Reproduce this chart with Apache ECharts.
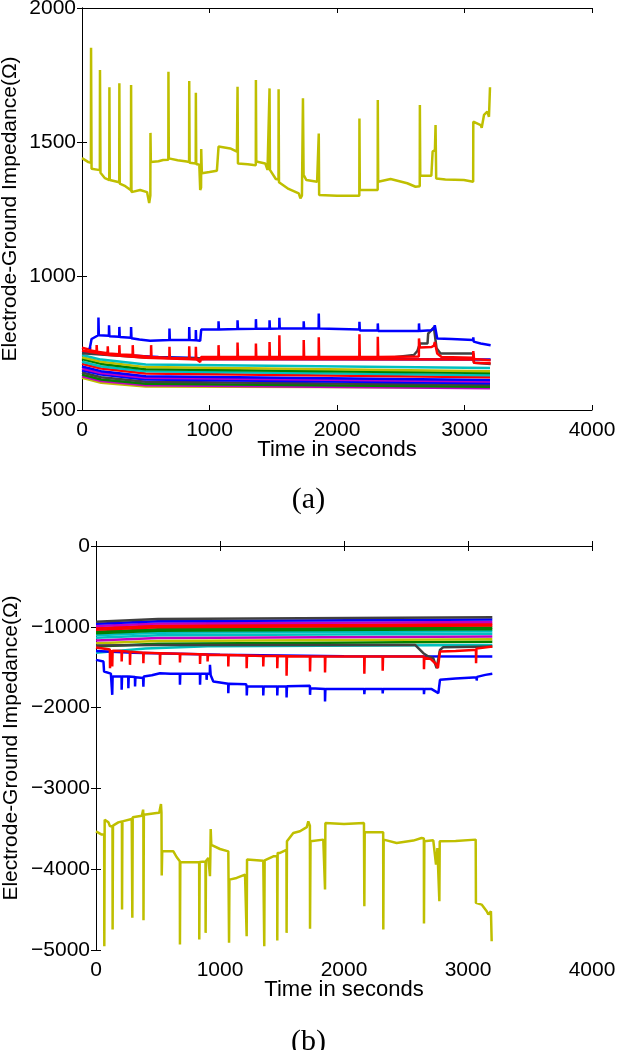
<!DOCTYPE html>
<html>
<head>
<meta charset="utf-8">
<script src="https://cdn.jsdelivr.net/npm/echarts@6/dist/echarts.min.js"></script>
<style>
html,body{margin:0;padding:0;background:#fff;}
#chart{width:617px;height:1050px;}
</style>
</head>
<body>
<div id="chart"></div>
<script>
// ---------- tick values ----------
const timeTicks = [0, 1000, 2000, 3000, 4000];
const ticksA = [500, 1000, 1500, 2000];
const ticksB = [-5000, -4000, -3000, -2000, -1000, 0];

// ---------- panel (a): [time s, impedance Ω] ----------
const aYellow = [[0,1440],[50,1425],[70,1422],[71,1852],[75,1400],[140,1395],[141,1769],[145,1385],[180,1365],[214,1358],[215,1704],[218,1358],[292,1350],[293,1719],[296,1345],[340,1335],[384,1320],[385,1713],[388,1313],[456,1321],[510,1313],[527,1272],[536,1300],[537,1534],[540,1425],[547,1422],[600,1428],[636,1433],[677,1434],[678,1762],[681,1439],[750,1432],[822,1427],[840,1425],[841,1728],[844,1423],[892,1420],[893,1684],[896,1418],[920,1415],[927,1321],[934,1330],[935,1474],[940,1383],[1000,1388],[1058,1393],[1071,1483],[1163,1476],[1215,1464],[1219,1462],[1220,1706],[1223,1420],[1300,1417],[1346,1414],[1363,1413],[1364,1731],[1367,1427],[1437,1420],[1450,1420],[1455,1396],[1470,1396],[1471,1700],[1474,1396],[1520,1362],[1541,1360],[1542,1697],[1545,1350],[1555,1346],[1620,1325],[1700,1308],[1713,1290],[1725,1300],[1733,1663],[1738,1377],[1760,1358],[1844,1352],[1856,1352],[1857,1532],[1860,1302],[2000,1299],[2175,1299],[2176,1588],[2179,1321],[2319,1321],[2320,1657],[2323,1352],[2420,1362],[2551,1346],[2616,1333],[2649,1335],[2650,1638],[2653,1374],[2740,1374],[2750,1464],[2768,1470],[2773,1563],[2778,1364],[2850,1360],[2995,1358],[3068,1352],[3069,1576],[3127,1563],[3135,1553],[3153,1601],[3179,1613],[3192,1594],[3198,1600],[3200,1704]];
const aBlue = [[60,728],[75,765],[128,779],[129,845],[132,779],[211,777],[212,816],[215,775],[292,773],[293,810],[296,772],[384,770],[385,810],[388,768],[450,763],[534,758],[540,761],[685,761],[686,804],[689,761],[840,761],[841,810],[844,761],[892,760],[893,798],[896,760],[927,758],[935,800],[1070,800],[1071,831],[1074,800],[1219,802],[1220,835],[1223,802],[1363,803],[1364,839],[1367,803],[1470,803],[1471,835],[1474,803],[1547,804],[1548,844],[1551,804],[1738,804],[1739,831],[1742,804],[1856,804],[1857,860],[1860,804],[2175,800],[2176,829],[2179,797],[2319,797],[2320,823],[2323,795],[2642,795],[2643,823],[2646,795],[2740,798],[2760,805],[2767,816],[2786,767],[2900,765],[3068,761],[3069,771],[3072,755],[3127,748],[3205,742]];
const aRed = [[0,732],[62,725],[63,735],[66,722],[114,718],[115,742],[118,717],[201,712],[202,738],[205,711],[292,708],[293,742],[296,707],[397,705],[398,742],[401,704],[541,698],[542,742],[545,698],[685,694],[686,736],[689,694],[840,691],[841,738],[844,691],[892,690],[893,736],[896,690],[927,679],[935,698],[1070,698],[1071,742],[1074,698],[1219,698],[1220,752],[1223,698],[1363,698],[1364,748],[1367,698],[1470,698],[1471,754],[1474,698],[1547,698],[1548,779],[1551,698],[1738,698],[1739,761],[1742,698],[1856,698],[1857,771],[1860,698],[2175,698],[2176,783],[2179,698],[2319,698],[2320,773],[2323,698],[2642,700],[2643,767],[2650,733],[2742,735],[2760,740],[2767,754],[2786,711],[2820,698],[3068,695],[3069,720],[3075,690],[3205,686]];
const aRed2 = [[0,722],[200,706],[500,695],[927,688],[1000,690],[3068,688],[3075,676],[3205,674]];
const aBlue2 = [[0,715],[300,705],[600,698],[900,694],[950,690],[3205,688]];
const aBlack = [[0,712],[500,696],[1000,692],[2366,692],[2603,705],[2630,720],[2650,748],[2710,748],[2715,785],[2760,808],[2781,730],[2812,711],[3068,711],[3075,676],[3205,672]];
const aBandCyan1 = [[0,705],[150,688],[500,670],[3200,657]];
const aBandYellow1 = [[0,697],[150,680],[500,660],[3200,645]];
const aBandGreen1 = [[0,690],[150,672],[500,652],[3200,638]];
const aBandCyan2 = [[0,680],[150,662],[500,645],[3200,630]];
const aBandRed = [[0,672],[150,655],[500,636],[3200,622]];
const aBandBlue1 = [[0,662],[150,645],[500,626],[3200,612]];
const aBandMagenta1 = [[0,655],[150,638],[500,620],[3200,606]];
const aBandBlue2 = [[0,648],[150,632],[500,614],[3200,600]];
const aBandBlack = [[0,640],[150,622],[500,605],[3200,593]];
const aBandGreen2 = [[0,632],[150,614],[500,598],[3200,587]];
const aBandMagenta2 = [[0,626],[150,608],[500,592],[3200,581]];
const aBandYellow2 = [[0,620],[150,602],[500,588],[3200,584]];

// ---------- panel (b): [time s, impedance Ω] ----------
const bYellow = [[0,-3531],[46,-3572],[66,-3572],[67,-4953],[70,-3387],[100,-3420],[113,-3470],[133,-3465],[134,-4747],[137,-3461],[180,-3420],[194,-3408],[209,-3408],[210,-4499],[213,-3408],[288,-3379],[292,-3379],[293,-4602],[296,-3358],[370,-3338],[380,-3263],[382,-3330],[383,-4632],[386,-3325],[489,-3304],[510,-3300],[524,-3193],[528,-3300],[530,-4079],[534,-3779],[624,-3779],[650,-3849],[676,-3902],[677,-4932],[680,-3914],[832,-3914],[833,-4870],[836,-3910],[883,-3905],[884,-4788],[887,-3900],[906,-3861],[918,-3861],[919,-4087],[922,-3860],[925,-3502],[930,-3700],[946,-3717],[1000,-3750],[1067,-3779],[1072,-3779],[1073,-4911],[1076,-4129],[1134,-4108],[1202,-4067],[1214,-4060],[1215,-4829],[1218,-3881],[1349,-3895],[1356,-3895],[1357,-4953],[1360,-3890],[1430,-3840],[1461,-3840],[1462,-4882],[1465,-3798],[1484,-3798],[1500,-3780],[1536,-3760],[1537,-4788],[1540,-3655],[1591,-3551],[1645,-3531],[1700,-3480],[1712,-3408],[1725,-3461],[1726,-4738],[1730,-3655],[1833,-3634],[1846,-3634],[1847,-4252],[1850,-3428],[2000,-3440],[2161,-3428],[2163,-3428],[2164,-4459],[2167,-3544],[2316,-3544],[2317,-4747],[2320,-3634],[2425,-3675],[2559,-3646],[2626,-3614],[2644,-3620],[2645,-4672],[2648,-3655],[2720,-3642],[2735,-3660],[2742,-3943],[2748,-3900],[2753,-3737],[2768,-3737],[2769,-4397],[2772,-3655],[2900,-3650],[3062,-3634],[3064,-4417],[3110,-4438],[3151,-4520],[3164,-4561],[3185,-4520],[3191,-4891]];
const bBlue = [[0,-1409],[60,-1430],[65,-1553],[120,-1580],[130,-1595],[131,-1842],[134,-1615],[206,-1615],[207,-1780],[210,-1615],[260,-1615],[261,-1759],[264,-1615],[314,-1620],[315,-1739],[318,-1625],[380,-1635],[382,-1740],[385,-1615],[450,-1600],[516,-1574],[600,-1582],[676,-1582],[677,-1718],[680,-1582],[838,-1582],[839,-1718],[842,-1582],[891,-1582],[892,-1656],[895,-1582],[918,-1580],[919,-1471],[925,-1600],[946,-1677],[1000,-1690],[1066,-1706],[1067,-1821],[1070,-1706],[1210,-1710],[1215,-1739],[1216,-1850],[1219,-1739],[1348,-1739],[1349,-1850],[1352,-1739],[1461,-1739],[1462,-1850],[1465,-1739],[1536,-1739],[1537,-1875],[1540,-1735],[1725,-1730],[1726,-1842],[1729,-1760],[1846,-1771],[1847,-1925],[1850,-1771],[2163,-1771],[2164,-1834],[2167,-1771],[2311,-1771],[2312,-1825],[2315,-1771],[2644,-1771],[2645,-1834],[2648,-1771],[2707,-1771],[2761,-1821],[2774,-1656],[2900,-1640],[3043,-1628],[3069,-1628],[3070,-1665],[3073,-1620],[3140,-1595],[3196,-1582]];
const bBlue2 = [[0,-1300],[300,-1320],[1000,-1345],[2000,-1365],[3196,-1368]];
const bRed = [[0,-1255],[112,-1280],[113,-1512],[116,-1290],[130,-1290],[131,-1490],[134,-1295],[206,-1300],[207,-1430],[210,-1300],[273,-1310],[274,-1471],[277,-1310],[381,-1320],[382,-1450],[385,-1320],[515,-1327],[516,-1471],[519,-1327],[676,-1335],[677,-1442],[680,-1335],[838,-1340],[839,-1460],[842,-1340],[899,-1342],[900,-1430],[903,-1345],[1066,-1350],[1067,-1491],[1070,-1350],[1214,-1355],[1215,-1512],[1218,-1355],[1348,-1360],[1349,-1491],[1352,-1360],[1461,-1362],[1462,-1512],[1465,-1362],[1536,-1365],[1537,-1607],[1540,-1365],[1725,-1368],[1726,-1553],[1729,-1368],[1846,-1368],[1847,-1566],[1850,-1368],[2163,-1368],[2164,-1582],[2167,-1368],[2311,-1368],[2312,-1545],[2315,-1368],[2644,-1368],[2645,-1524],[2648,-1380],[2700,-1400],[2742,-1460],[2757,-1512],[2758,-1533],[2774,-1306],[2900,-1300],[3043,-1286],[3064,-1286],[3065,-1450],[3068,-1270],[3196,-1245]];
const bBlack = [[0,-1230],[500,-1225],[2573,-1224],[2640,-1327],[2680,-1368],[2720,-1389],[2747,-1512],[2761,-1533],[2774,-1286],[2800,-1253],[3196,-1245]];
const bBandBlack = [[0,-936],[500,-904],[3196,-882]];
const bBandBlue = [[0,-962],[500,-931],[3196,-910]];
const bBandMagenta1 = [[0,-990],[500,-960],[3196,-940]];
const bBandRed1 = [[0,-1015],[500,-985],[3196,-965]];
const bBandRed2 = [[0,-1035],[500,-1005],[3196,-985]];
const bBandGreen1 = [[0,-1060],[500,-1030],[3196,-1010]];
const bBandGreen2 = [[0,-1080],[500,-1050],[3196,-1030]];
const bBandCyan1 = [[0,-1105],[500,-1075],[3196,-1055]];
const bBandCyan2 = [[0,-1135],[500,-1105],[3196,-1085]];
const bBandMagenta2 = [[0,-1170],[500,-1140],[3196,-1120]];
const bBandYellow = [[0,-1205],[500,-1175],[3196,-1155]];
const bBandGreen3 = [[0,-1245],[500,-1210],[3196,-1185]];
const bBandCyan3 = [[0,-1320],[400,-1270],[900,-1240],[3196,-1224]];

// ---------- colours (MATLAB default order) ----------
const C = {b:'#0000FF', g:'#008000', r:'#FF0000', c:'#00BFBF', m:'#BF00BF', y:'#BFBF00', k:'#404040'};

const panelA = [
  [aBandYellow2,C.y],[aBandMagenta2,C.m],[aBandGreen2,C.g],[aBandBlack,C.k],[aBandBlue2,C.b],
  [aBandMagenta1,C.m],[aBandBlue1,C.b],[aBandRed,C.r],[aBandCyan2,C.c],[aBandGreen1,C.g],
  [aBandYellow1,C.y],[aBandCyan1,C.c],[aBlue2,C.b],[aBlack,C.k],[aRed2,C.r],[aRed,C.r],
  [aBlue,C.b],[aYellow,C.y]
];
const panelB = [
  [bBandCyan3,C.c],[bBandGreen3,C.g],[bBandYellow,C.y],[bBandMagenta2,C.m],[bBandCyan2,C.c],
  [bBandCyan1,C.c],[bBandGreen2,C.g],[bBandGreen1,C.g],[bBandRed2,C.r],[bBandRed1,C.r],
  [bBandMagenta1,C.m],[bBandBlue,C.b],[bBandBlack,C.k],[bBlue2,C.b],[bBlack,C.k],[bRed,C.r],
  [bBlue,C.b],[bYellow,C.y]
];

const FONT = 'Liberation Sans, Arial, sans-serif';
const minus = v => String(v).replace('-', '\u2212');

function xAx(grid, ticks, labels, name) {
  return {
    type:'value', gridIndex:grid, position: labels ? 'bottom' : 'top',
    min:ticks[0], max:ticks[ticks.length-1], interval:ticks[1]-ticks[0],
    name: labels ? name : '', nameLocation:'middle', nameGap:29, nameMoveOverlap:false,
    nameTextStyle:{fontFamily:FONT, fontSize:22, color:'#000'},
    axisLine:{show:true, lineStyle:{color:'#000', width:1}},
    axisTick:{show:true, inside:true, length:5, lineStyle:{color:'#000'}},
    axisLabel:{show:labels, margin:10, fontFamily:FONT, fontSize:21, color:'#000', formatter:minus},
    splitLine:{show:false}
  };
}
function yAx(grid, ticks, labels, name, gap) {
  return {
    type:'value', gridIndex:grid, position: labels ? 'left' : 'right',
    min:ticks[0], max:ticks[ticks.length-1], interval:ticks[1]-ticks[0],
    name: labels ? name : '', nameLocation:'middle', nameGap:gap, nameMoveOverlap:false,
    nameTextStyle:{fontFamily:FONT, fontSize:21, color:'#000'},
    axisLine:{show:true, lineStyle:{color:'#000', width:1}},
    axisTick:{show:true, inside:true, length:5, lineStyle:{color:'#000'}},
    axisLabel:{show:labels, margin:6, fontFamily:FONT, fontSize:21, color:'#000', formatter:minus},
    splitLine:{show:false}
  };
}

const yName = 'Electrode-Ground Impedance(\u03A9)';
const series = [];
panelA.forEach(([d,col]) => series.push({type:'line', xAxisIndex:0, yAxisIndex:0, data:d, showSymbol:false, symbol:'none', lineStyle:{color:col, width:2.5}, silent:true}));
panelB.forEach(([d,col]) => series.push({type:'line', xAxisIndex:2, yAxisIndex:2, data:d, showSymbol:false, symbol:'none', lineStyle:{color:col, width:2.5}, silent:true}));

const chart = echarts.init(document.getElementById('chart'), null, {renderer:'canvas'});
chart.setOption({
  animation:false,
  backgroundColor:'#fff',
  title:[
    {text:'(a)', left:'center', top:480, textStyle:{fontFamily:'Liberation Serif, Times New Roman, serif', fontSize:30, fontWeight:'normal', color:'#000'}},
    {text:'(b)', left:'center', top:1022, textStyle:{fontFamily:'Liberation Serif, Times New Roman, serif', fontSize:30, fontWeight:'normal', color:'#000'}}
  ],
  grid:[
    {left:82, right:25, top:8, height:402, containLabel:false, outerBoundsMode:'none'},
    {left:96, right:25, top:546, height:404, containLabel:false, outerBoundsMode:'none'}
  ],
  xAxis:[
    xAx(0, timeTicks, true, 'Time in seconds'),
    xAx(0, timeTicks, false, ''),
    xAx(1, timeTicks, true, 'Time in seconds'),
    xAx(1, timeTicks, false, '')
  ],
  yAxis:[
    yAx(0, ticksA, true, yName, 61),
    yAx(0, ticksA, false, '', 0),
    yAx(1, ticksB, true, yName, 74),
    yAx(1, ticksB, false, '', 0)
  ],
  series:series
});
</script>
</body>
</html>
